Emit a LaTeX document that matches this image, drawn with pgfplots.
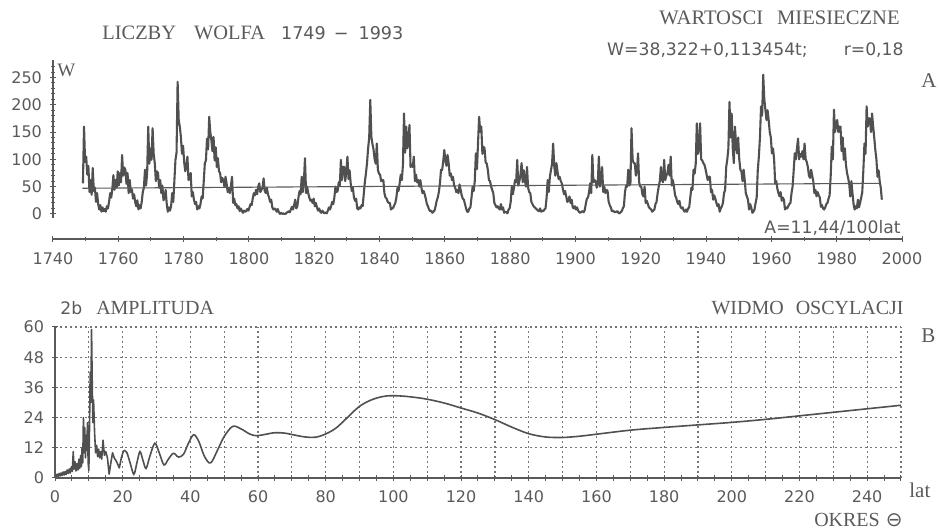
\documentclass[border=0pt]{standalone}
\usepackage{fontspec}
\usepackage{pgfplots}
\usepackage{pgfplotstable}
\pgfplotsset{compat=1.18}
\setmainfont{Liberation Serif}
\newfontfamily\plotfont{DejaVu Sans}
\definecolor{ink}{HTML}{5A5A5A}
\definecolor{curve}{HTML}{505050}
\definecolor{gridc}{HTML}{767676}

% Wolf numbers, three values per year (Jan-Apr, May-Aug, Sep-Dec), 1749-1993
\pgfplotstableread[row sep=\\]{
W\\
56\\160\\95\\ 105\\72\\88\\ 40\\62\\35\\ 84\\42\\48\\ 22\\38\\18\\
8\\16\\4\\ 12\\5\\9\\ 4\\14\\10\\ 22\\38\\30\\ 46\\71\\44\\
62\\48\\78\\ 52\\75\\58\\ 108\\70\\85\\ 81\\55\\75\\ 38\\62\\40\\
45\\28\\36\\ 22\\14\\25\\ 8\\16\\10\\ 22\\40\\48\\ 81\\52\\75\\
160\\92\\120\\ 99\\157\\110\\ 93\\60\\78\\ 75\\48\\62\\ 38\\52\\25\\
30\\44\\18\\ 4\\12\\6\\ 14\\38\\22\\ 60\\99\\112\\ 242\\172\\160\\
141\\110\\125\\ 95\\78\\88\\ 105\\62\\68\\ 75\\32\\40\\ 26\\18\\22\\
8\\14\\10\\ 18\\32\\28\\ 60\\93\\98\\ 138\\118\\178\\ 150\\135\\115\\
141\\98\\122\\ 86\\102\\78\\ 75\\58\\66\\ 62\\50\\68\\ 56\\40\\46\\
38\\52\\68\\ 20\\28\\16\\ 18\\10\\14\\ 5\\10\\6\\ 2\\6\\4\\
5\\9\\6\\ 12\\18\\16\\ 28\\38\\34\\ 44\\36\\50\\ 56\\40\\44\\
48\\65\\42\\ 38\\48\\36\\ 30\\22\\26\\ 12\\8\\10\\ 8\\4\\9\\
3\\0\\2\\ 0\\1\\0\\ 0\\2\\3\\ 5\\3\\8\\ 13\\8\\16\\
26\\10\\14\\ 30\\42\\36\\ 68\\40\\60\\ 102\\38\\50\\ 38\\30\\24\\
26\\20\\28\\ 14\\20\\12\\ 6\\10\\4\\ 2\\6\\3\\ 1\\3\\1\\
6\\12\\8\\ 14\\22\\18\\ 30\\50\\40\\ 42\\58\\52\\ 99\\62\\86\\
86\\60\\78\\ 105\\64\\80\\ 56\\42\\48\\ 30\\24\\28\\ 10\\8\\12\\
10\\16\\14\\ 36\\58\\74\\ 93\\120\\140\\ 209\\141\\128\\ 118\\100\\92\\
129\\80\\74\\ 72\\60\\62\\ 62\\38\\30\\ 28\\22\\20\\ 20\\8\\10\\
11\\16\\20\\ 30\\48\\42\\ 56\\72\\62\\ 90\\184\\112\\ 160\\120\\135\\
163\\86\\90\\ 86\\105\\60\\ 72\\58\\62\\ 50\\62\\48\\ 38\\42\\36\\
28\\18\\14\\ 8\\5\\6\\ 2\\4\\6\\ 14\\24\\30\\ 40\\56\\81\\
80\\96\\117\\ 98\\88\\108\\ 93\\70\\74\\ 62\\68\\52\\ 48\\40\\44\\
38\\54\\44\\ 34\\28\\26\\ 18\\10\\4\\ 4\\10\\12\\ 30\\50\\42\\
60\\111\\82\\ 130\\178\\150\\ 160\\110\\123\\ 120\\94\\92\\ 81\\62\\60\\
50\\44\\38\\ 20\\16\\12\\ 14\\10\\8\\ 18\\8\\12\\ 2\\4\\3\\
1\\8\\10\\ 22\\50\\36\\ 48\\62\\58\\ 99\\52\\60\\ 72\\93\\58\\
80\\62\\50\\ 86\\48\\40\\ 38\\22\\18\\ 14\\12\\10\\ 8\\6\\5\\
10\\4\\6\\ 5\\8\\10\\ 30\\62\\40\\ 68\\80\\92\\ 129\\88\\70\\
93\\78\\64\\ 68\\60\\56\\ 45\\36\\42\\ 32\\22\\24\\ 32\\20\\26\\
12\\10\\14\\ 8\\12\\6\\ 3\\2\\4\\ 5\\3\\7\\ 18\\28\\30\\
40\\56\\38\\ 108\\58\\62\\ 60\\48\\56\\ 105\\50\\62\\ 86\\40\\50\\
38\\44\\42\\ 22\\16\\12\\ 5\\6\\4\\ 3\\4\\5\\ 2\\1\\3\\
5\\10\\14\\ 40\\52\\50\\ 81\\52\\56\\ 157\\100\\93\\ 93\\70\\78\\
111\\58\\50\\ 50\\36\\32\\ 50\\20\\24\\ 18\\12\\10\\ 8\\4\\6\\
8\\18\\22\\ 38\\50\\60\\ 86\\62\\58\\ 99\\62\\70\\ 75\\90\\70\\
105\\52\\62\\ 50\\34\\30\\ 22\\18\\24\\ 13\\10\\12\\ 6\\4\\8\\
4\\10\\12\\ 30\\48\\44\\ 81\\74\\92\\ 166\\110\\120\\ 166\\100\\98\\
93\\90\\82\\ 72\\62\\68\\ 68\\40\\44\\ 26\\34\\28\\ 20\\14\\18\\
4\\10\\14\\ 20\\38\\44\\ 86\\100\\120\\ 205\\140\\184\\ 120\\93\\160\\
130\\111\\140\\ 100\\81\\78\\ 60\\81\\62\\ 38\\32\\26\\ 8\\18\\12\\
2\\4\\8\\ 20\\30\\80\\ 105\\140\\197\\ 180\\255\\210\\ 191\\172\\190\\
172\\150\\140\\ 111\\120\\100\\ 56\\60\\46\\ 38\\32\\40\\ 24\\30\\26\\
8\\12\\10\\ 14\\18\\20\\ 38\\50\\80\\ 111\\100\\120\\ 138\\100\\110\\
105\\115\\100\\ 129\\100\\95\\ 86\\70\\66\\ 81\\70\\60\\ 38\\44\\32\\
40\\34\\30\\ 13\\16\\10\\ 8\\12\\18\\ 20\\28\\34\\ 70\\123\\100\\
191\\150\\165\\ 172\\150\\160\\ 160\\115\\140\\ 99\\120\\90\\ 75\\66\\55\\
32\\60\\38\\ 18\\8\\14\\ 10\\26\\12\\ 20\\30\\40\\ 80\\129\\110\\
197\\160\\175\\ 175\\150\\184\\ 160\\140\\117\\ 100\\68\\80\\ 60\\48\\26\\
}\wolf

\begin{document}
\begin{tikzpicture}
\useasboundingbox (0,0) rectangle (469.5pt,265.5pt);

% ---------- panel A: monthly Wolf numbers ----------
\begin{axis}[
  at={(26.5pt,146pt)}, anchor=south west,
  scale only axis, width=424.5pt, height=89.5pt,
  xmin=1740, xmax=2000, ymin=-46, ymax=282,
  axis x line=bottom, axis y line=left,
  axis line style={-, ink, line width=0.6pt},
  y axis line style={draw=none},
  xtick={1740,1760,...,2000}, minor xtick={1750,1770,...,1990},
  ytick={0,50,...,250}, minor ytick={10,20,30,40,60,70,80,90,110,120,130,140,160,170,180,190,210,220,230,240,260,270},
  tick align=center, major tick length=3pt, minor tick length=1.6pt,
  tick style={ink, line width=0.5pt},
  /pgf/number format/1000 sep={},
  /pgf/number format/assume math mode=true,
  tick label style={font=\plotfont\fontsize{8}{9}\selectfont, text=ink},
  xticklabel style={yshift=-2pt},
  yticklabel style={xshift=-0.5pt},
  clip=false,
]
\draw[ink, line width=0.6pt] (axis cs:1740,-7) -- (axis cs:1740,282);
\addplot[curve, line width=1.05pt, line join=round] table[x expr={1749+\coordindex/3+1/6}, y=W] {\wolf};
% linear trend
\addplot[ink, line width=0.55pt] coordinates {(1749,47) (1993,56)};
\end{axis}

% ---------- panel B: oscillation spectrum ----------
\begin{axis}[
  at={(27.5pt,26.5pt)}, anchor=south west,
  scale only axis, width=423pt, height=75.5pt,
  xmin=0, xmax=250, ymin=0, ymax=60,
  axis x line=bottom, axis y line=left,
  axis line style={-, ink, line width=0.6pt},
  xtick={0,20,...,240}, minor xtick={10,30,...,250},
  ytick={0,12,...,60},
  extra x ticks={5,15,...,245}, extra x tick labels={},
  extra x tick style={grid=none},
  grid=both,
  major grid style={dash pattern=on 1.2pt off 1.3pt, gridc, line width=0.6pt},
  minor grid style={dash pattern=on 1.2pt off 1.3pt, gridc, line width=0.6pt},
  tick align=center, major tick length=3pt, minor tick length=3pt,
  tick style={ink, line width=0.5pt},
  /pgf/number format/assume math mode=true,
  tick label style={font=\plotfont\fontsize{8}{9}\selectfont, text=ink},
  xticklabel style={yshift=-1.5pt},
  yticklabel style={xshift=-0.5pt},
]
% short periods: sharp periodogram
\addplot[curve, line width=0.8pt, line join=round] coordinates {
(0.3,0.5)(0.6,1.5)(0.9,0.6)(1.2,1.8)(1.5,0.8)(1.8,2.0)(2.1,1.0)(2.4,2.4)(2.7,1.2)(3.0,2.6)
(3.3,1.4)(3.6,3.2)(3.9,1.8)(4.2,3.6)(4.5,2.0)(4.8,4.4)(5.1,2.6)(5.4,10.5)(5.6,3.5)(5.9,6.5)
(6.2,2.8)(6.5,5.8)(6.8,3.2)(7.1,7.5)(7.3,3.8)(7.6,9.0)(7.8,4.5)(8.0,12.0)(8.2,6.0)(8.4,24.0)
(8.6,10.0)(8.8,20.0)(9.0,8.0)(9.2,17.0)(9.4,11.0)(9.6,22.0)(9.8,6.0)(10.0,3.0)(10.2,20.0)
(10.4,42.0)(10.6,30.0)(10.8,59.0)(11.0,38.0)(11.2,22.0)(11.4,31.0)(11.7,18.0)(12.0,10.0)
(12.3,13.0)(12.6,8.5)(12.9,11.5)(13.2,8.0)(13.5,10.5)(13.8,7.5)(14.2,15.0)(14.6,9.0)
(15.0,10.5)(15.5,8.0)(16.0,1.5)(16.5,6.0)(17.0,10.0)(17.5,8.0)(18.2,6.5)(19.0,4.0)
(19.6,8.0)(20.3,11.0)};
% longer periods
\addplot[curve, line width=0.8pt, smooth, tension=0.55] coordinates {
(20.3,11)(21.2,10.2)(22.2,6)(23.3,1.5)(24.2,6)(25.1,10.5)(26,7)(26.9,3.8)(28,8.5)(29.5,13.8)
(30.8,10)(32.2,5.2)(33.5,7.5)(35,9.8)(36.5,8.3)(38,9.5)(39.5,14)(41,17.2)(42.5,14.5)(44.2,8.5)
(46,6)(48,11)(50,16.5)(52.5,20.5)(55,19.5)(57.5,17.5)(59.5,16.8)(62,17.3)(65,18)(68,17.8)
(71,17)(74,16.3)(77,16.2)(80,17.5)(83,19.8)(86,23.5)(90,28.5)(94,31.3)(98,32.6)(102,32.6)
(106,32.1)(110,31.3)(115,29.8)(120,27.8)(125,25.8)(130,23.2)(135,20.2)(140,17.6)(145,16.3)
(150,16.1)(155,16.6)(160,17.4)(170,19.0)(180,20.1)(190,21.1)(200,22.1)(210,23.3)(220,24.7)
(230,26.1)(240,27.5)(250,28.9)};
\end{axis}

% ---------- texts ----------
\begin{scope}[x=0.5pt, y=-0.5pt, yshift=265.5pt, every node/.style={inner sep=0pt, text=ink}]
\node[anchor=west] at (102,33) {\fontsize{10.2}{12}\selectfont LICZBY\hspace{9pt}WOLFA\hspace{8pt}{\plotfont\fontsize{8.8}{10}\selectfont 1749\hspace{4pt}−\hspace{5pt}1993}};
\node[anchor=east] at (900,18) {\fontsize{10.3}{12}\selectfont WARTOSCI\hspace{7pt}MIESIECZNE};
\node[anchor=east] at (904,50) {\plotfont\fontsize{8.6}{10}\selectfont W=38,322+0,113454t;\hspace{18pt}r=0,18};
\node[anchor=west] at (57,70) {\fontsize{9.5}{11}\selectfont W};
\node[anchor=west] at (921,81) {\fontsize{10.5}{12}\selectfont A};
\node[anchor=east] at (901,228) {\plotfont\fontsize{8.6}{10}\selectfont A=11,44/100lat};
\node[anchor=west] at (60,308) {{\plotfont\fontsize{8.6}{10}\selectfont 2b}\hspace{7pt}\fontsize{10}{12}\selectfont AMPLITUDA};
\node[anchor=east] at (904,308) {\fontsize{10}{12}\selectfont WIDMO\hspace{6pt}OSCYLACJI};
\node[anchor=west] at (921,336) {\fontsize{10.5}{12}\selectfont B};
\node[anchor=west] at (909,490) {\fontsize{10.5}{12}\selectfont lat};
\node[anchor=east] at (903,520) {\fontsize{10}{12}\selectfont OKRES\hspace{3pt}{\plotfont ⊖}};
\end{scope}
\end{tikzpicture}
\end{document}
